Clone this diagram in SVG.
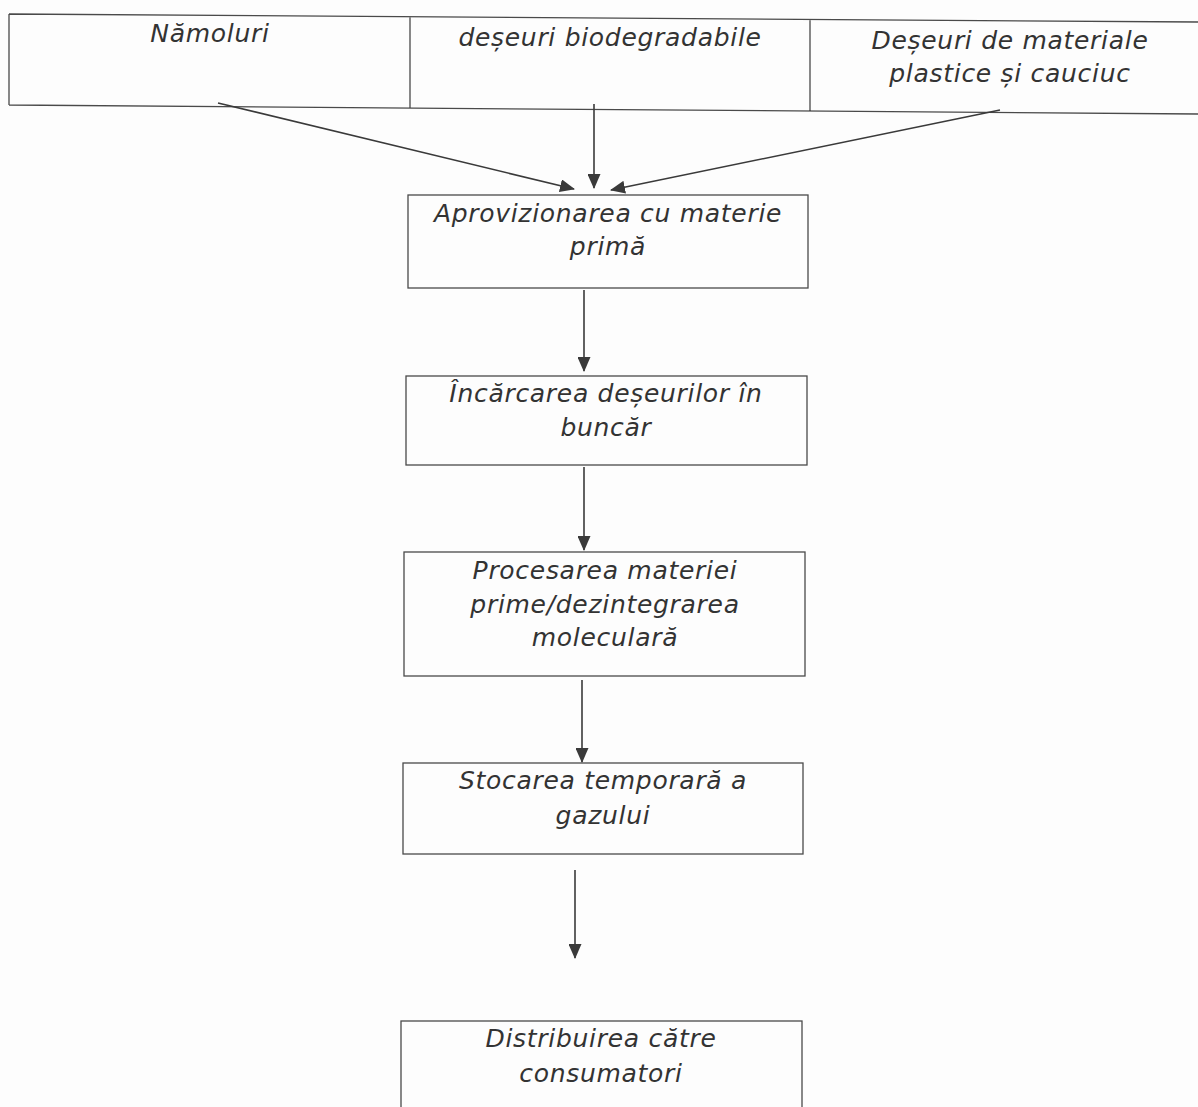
<svg xmlns="http://www.w3.org/2000/svg" width="1198" height="1107" viewBox="0 0 1198 1107">
<defs>
<marker id="ah" markerWidth="15" markerHeight="13" refX="14" refY="6.5" orient="auto" markerUnits="userSpaceOnUse">
<path d="M0,0 L15,6.5 L0,13 z" fill="#3a3a3a"/>
</marker>
<style>
.b{fill:none;stroke:#4a4a4a;stroke-width:1.3}
.t{font-family:"DejaVu Sans","Verdana",sans-serif;font-style:italic;font-size:25px;letter-spacing:0.7px;fill:#333;text-anchor:middle}
.c{stroke:#3a3a3a;stroke-width:1.6;fill:none}
</style>
</defs>
<rect width="1198" height="1107" fill="#fdfdfd"/>
<g id="sources">
<path class="b" d="M9,14 L1198,22 M9,105 L1198,114 M9,14 L9,105 M410,17 L410,108 M810,20 L810,111"/>
<g id="n-namoluri"><text class="t" x="210" y="42">Nămoluri</text></g>
<g id="n-biodegradabile"><text class="t" x="610" y="46">deșeuri biodegradabile</text></g>
<g id="n-plastice"><text class="t" x="1010" y="49">Deșeuri de materiale</text><text class="t" x="1010" y="82">plastice și cauciuc</text></g>
</g>
<g id="n1"><rect class="b" x="408" y="195" width="400" height="93"/><text class="t" x="608" y="222">Aprovizionarea cu materie</text><text class="t" x="608" y="255">primă</text></g>
<g id="n2"><rect class="b" x="406" y="376" width="401" height="89"/><text class="t" x="606" y="402">Încărcarea deșeurilor în</text><text class="t" x="606" y="436">buncăr</text></g>
<g id="n3"><rect class="b" x="404" y="552" width="401" height="124"/><text class="t" x="605" y="579">Procesarea materiei</text><text class="t" x="605" y="613">prime/dezintegrarea</text><text class="t" x="605" y="646">moleculară</text></g>
<g id="n4"><rect class="b" x="403" y="763" width="400" height="91"/><text class="t" x="603" y="789">Stocarea temporară a</text><text class="t" x="603" y="824">gazului</text></g>
<g id="n5"><rect class="b" x="401" y="1021" width="401" height="100"/><text class="t" x="601" y="1047">Distribuirea către</text><text class="t" x="601" y="1082">consumatori</text></g>
<g id="connectors">
<line class="c" x1="218" y1="103" x2="574" y2="189" marker-end="url(#ah)"/>
<line class="c" x1="594" y1="104" x2="594" y2="188" marker-end="url(#ah)"/>
<line class="c" x1="1000" y1="110" x2="611" y2="190" marker-end="url(#ah)"/>
<line class="c" x1="584" y1="290" x2="584" y2="371" marker-end="url(#ah)"/>
<line class="c" x1="584" y1="467" x2="584" y2="550" marker-end="url(#ah)"/>
<line class="c" x1="582" y1="680" x2="582" y2="762" marker-end="url(#ah)"/>
<line class="c" x1="575" y1="870" x2="575" y2="958" marker-end="url(#ah)"/>
</g>
</svg>
